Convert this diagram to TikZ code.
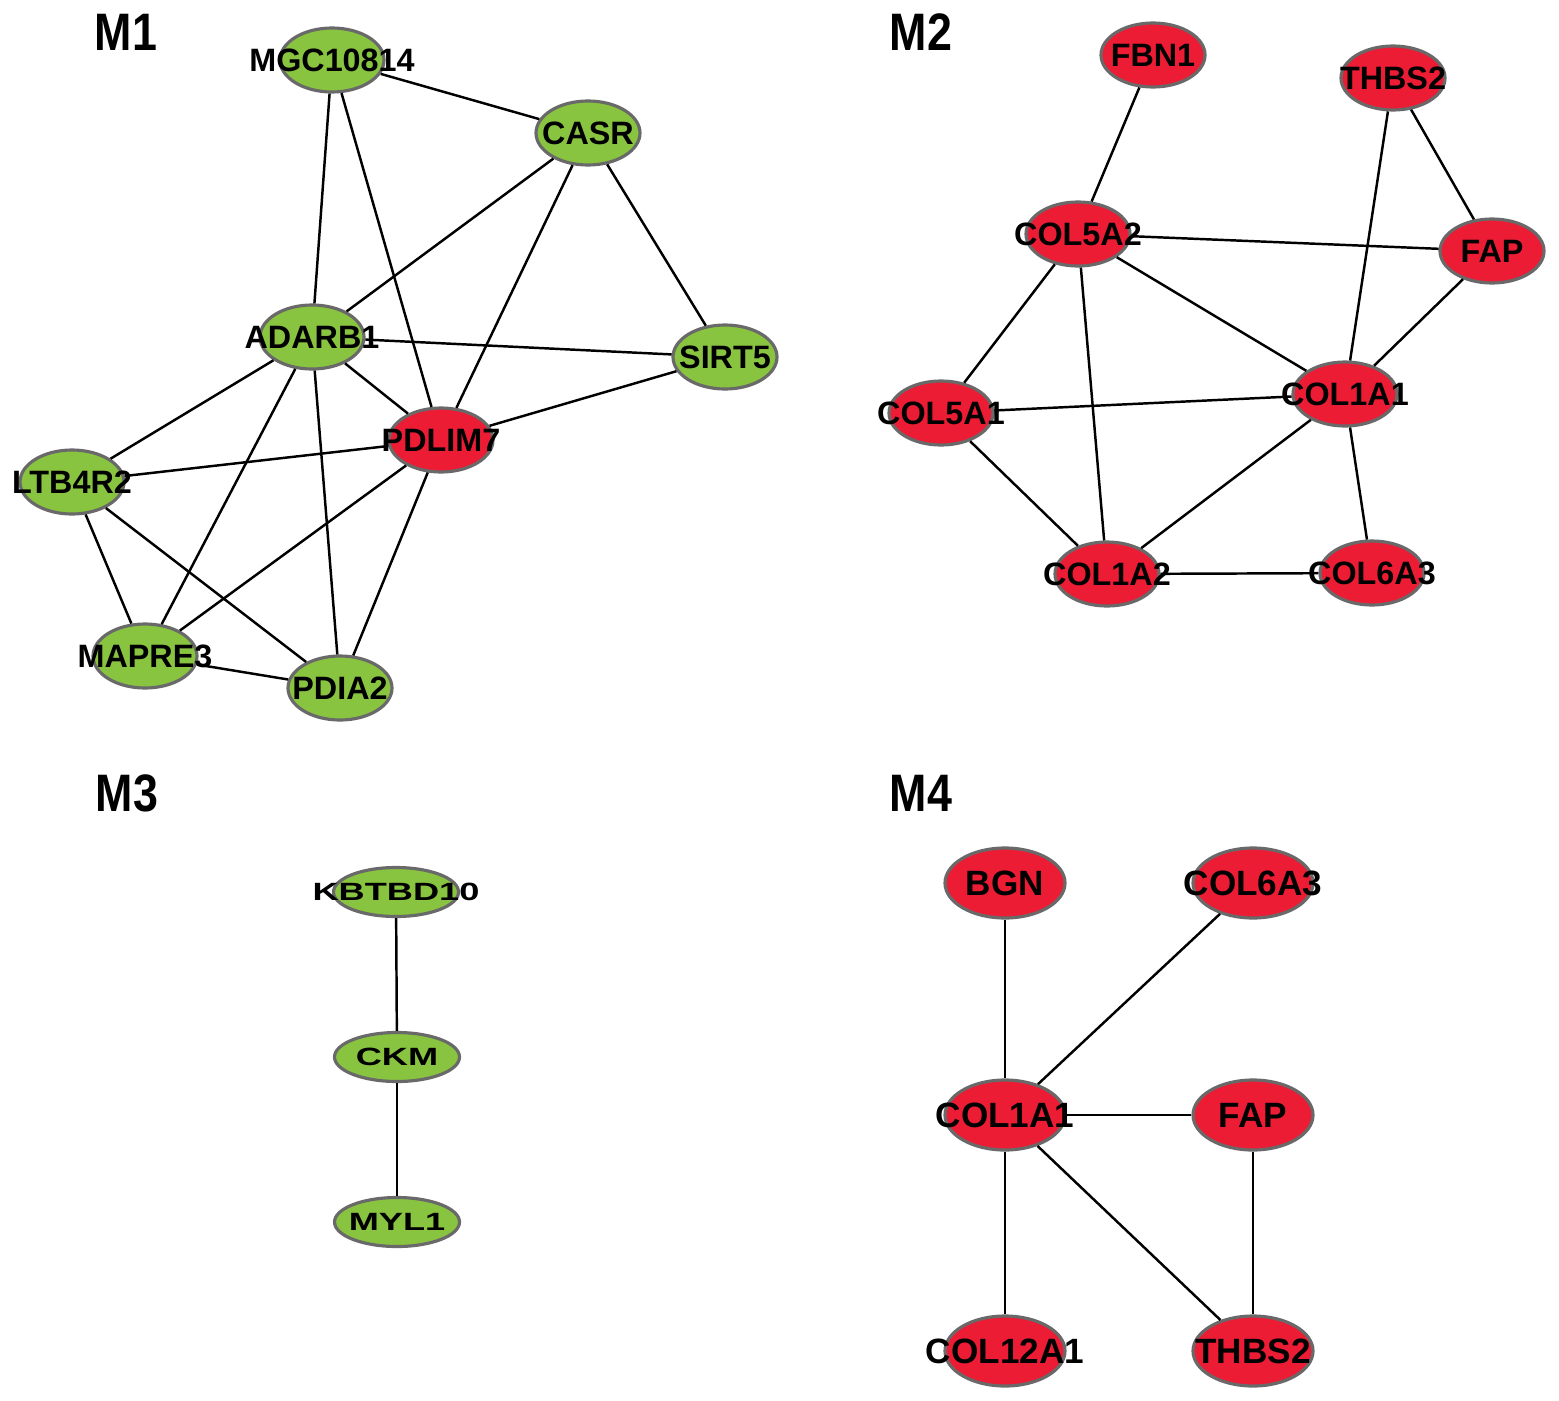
\documentclass[tikz,border=0pt]{standalone}
\usepackage{fontspec}
\setmainfont{Liberation Sans}
\usetikzlibrary{shapes.geometric}
\definecolor{gfill}{RGB}{137,196,64}
\definecolor{rfill}{RGB}{236,28,52}
\definecolor{bline}{RGB}{105,105,105}
\newcommand{\gname}[1]{\makebox[0pt]{#1}}
\newcommand{\gwide}[1]{\makebox[0pt]{\scalebox{1.45}[1]{#1}}}
\begin{document}
\begin{tikzpicture}[
  gn/.style={ellipse,draw=bline,line width=0.9pt,fill=gfill,inner sep=0pt,
    minimum width=1.04cm,minimum height=0.64cm,font=\fontsize{9.2}{10}\selectfont\bfseries},
  rn/.style={gn,fill=rfill},
  sn/.style={gn,minimum width=1.25cm,minimum height=0.49cm,font=\fontsize{7.1}{8}\selectfont\bfseries},
  bn/.style={rn,minimum width=1.2cm,minimum height=0.7cm,font=\fontsize{10}{12}\selectfont\bfseries},
  ln/.style={line width=0.7pt},
  title/.style={font=\fontsize{15}{18}\selectfont\bfseries}]
\useasboundingbox (0,0) rectangle (15.59,-14);
\node[title] (t1) at (1.26,-0.32) {\scalebox{0.85}[1]{M1}};
\node[title] (t2) at (9.21,-0.32) {\scalebox{0.85}[1]{M2}};
\node[title] (t3) at (1.27,-7.93) {\scalebox{0.85}[1]{M3}};
\node[title] (t4) at (9.21,-7.93) {\scalebox{0.85}[1]{M4}};
\node[gn] (mgc) at (3.32,-0.60) {\gname{MGC10814}};
\node[gn] (casr) at (5.88,-1.33) {\gname{CASR}};
\node[gn] (adarb) at (3.12,-3.37) {\gname{ADARB1}};
\node[gn] (sirt) at (7.25,-3.57) {\gname{SIRT5}};
\node[rn] (pdlim) at (4.41,-4.40) {\gname{PDLIM7}};
\node[gn] (ltb) at (0.72,-4.82) {\gname{LTB4R2}};
\node[gn] (mapre) at (1.45,-6.56) {\gname{MAPRE3}};
\node[gn] (pdia) at (3.40,-6.88) {\gname{PDIA2}};
\foreach \a/\b in {mgc/casr,mgc/adarb,mgc/pdlim,casr/adarb,casr/pdlim,casr/sirt,
  adarb/sirt,adarb/pdlim,adarb/ltb,adarb/mapre,adarb/pdia,sirt/pdlim,pdlim/ltb,
  pdlim/mapre,pdlim/pdia,ltb/mapre,ltb/pdia,mapre/pdia}
  \draw[ln] (\a) -- (\b);
\node[rn] (fbn) at (11.53,-0.55) {\gname{FBN1}};
\node[rn] (thbs) at (13.93,-0.78) {\gname{THBS2}};
\node[rn] (cfa) at (10.78,-2.34) {\gname{COL5A2}};
\node[rn] (fap) at (14.92,-2.51) {\gname{FAP}};
\node[rn] (caa) at (13.45,-3.94) {\gname{COL1A1}};
\node[rn] (cfb) at (9.41,-4.13) {\gname{COL5A1}};
\node[rn] (cab) at (11.07,-5.74) {\gname{COL1A2}};
\node[rn] (csa) at (13.72,-5.73) {\gname{COL6A3}};
\foreach \a/\b in {fbn/cfa,thbs/caa,thbs/fap,cfa/fap,cfa/caa,cfa/cfb,cfa/cab,
  fap/caa,cfb/caa,cfb/cab,caa/cab,caa/csa,cab/csa}
  \draw[ln] (\a) -- (\b);
\node[sn] (kbt) at (3.96,-8.92) {\gwide{KBTBD10}};
\node[sn] (ckm) at (3.97,-10.57) {\gwide{CKM}};
\node[sn] (myl) at (3.97,-12.22) {\gwide{MYL1}};
\draw[ln] (kbt) -- (ckm);
\draw[ln] (ckm) -- (myl);
\node[bn] (bgn) at (10.05,-8.83) {\gname{BGN}};
\node[bn] (csb) at (12.53,-8.83) {\gname{COL6A3}};
\node[bn] (cac) at (10.05,-11.15) {\gname{COL1A1}};
\node[bn] (fapb) at (12.53,-11.15) {\gname{FAP}};
\node[bn] (ctw) at (10.05,-13.51) {\gname{COL12A1}};
\node[bn] (thbsb) at (12.53,-13.51) {\gname{THBS2}};
\foreach \a/\b in {bgn/cac,csb/cac,cac/fapb,cac/ctw,cac/thbsb,fapb/thbsb}
  \draw[ln] (\a) -- (\b);
\end{tikzpicture}
\end{document}
